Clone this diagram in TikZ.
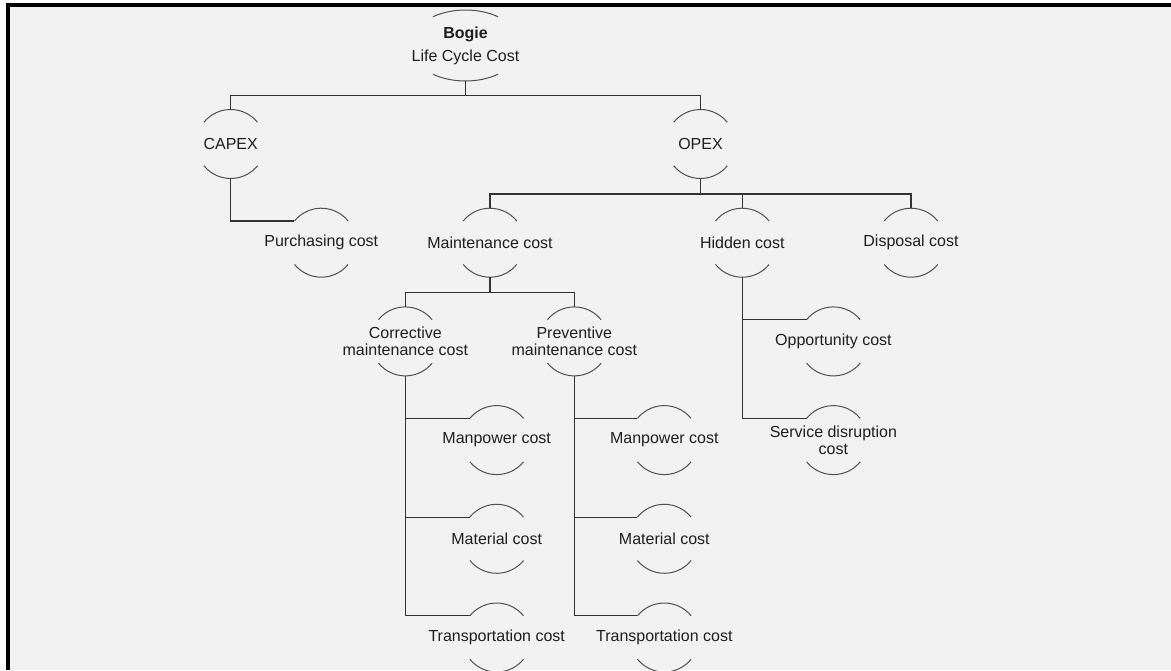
\documentclass[tikz,border=0pt]{standalone}
\usepackage{fontspec}
\setmainfont{Liberation Sans}
\usetikzlibrary{shapes.geometric}
\definecolor{bg}{HTML}{F2F2F2}
\definecolor{ln}{HTML}{333333}
\definecolor{arcc}{HTML}{505050}
\definecolor{txt}{HTML}{1E1E1E}
\begin{document}
\begin{tikzpicture}[x=1pt,y=1pt,
  bub/.style={circle, minimum size=69pt, inner sep=0pt, outer sep=0pt},
  every label/.style={align=center, text=txt, font=\fontsize{16}{17}\selectfont, inner sep=0pt},
  conn/.style={draw=ln, line width=1.1pt},
  arcl/.style={draw=arcc, line width=1pt}]
\useasboundingbox (0,0) rectangle (1171,-670);
\clip (0,0) rectangle (1171,-670);
\fill[white] (0,0) rectangle (1171,-670);
\fill[bg] (10,-7.3) rectangle (1171,-670);
\fill[black] (6,-3.3) rectangle (10,-670);
\fill[black] (6,-3.3) rectangle (1171,-7.3);

% nodes
\node[shape=ellipse, minimum width=111pt, minimum height=71pt, inner sep=0pt, outer sep=0pt,
      label=center:{\textbf{Bogie}\\[6pt]Life Cycle Cost}] (bogie) at (465.5,-45.5) {};
\node[bub, label=center:CAPEX] (capex) at (230.7,-144) {};
\node[bub, label=center:OPEX] (opex) at (700.5,-144) {};
\node[bub, label=center:Purchasing cost] (purch) at (321.3,-242.7) {};
\node[bub, label=center:Maintenance cost] (maint) at (490,-242.7) {};
\node[bub, label=center:Hidden cost] (hidden) at (742.3,-242.7) {};
\node[bub, label=center:Disposal cost] (disp) at (911,-242.7) {};
\node[bub, label=center:{Corrective\\maintenance cost}] (corr) at (405.3,-341.4) {};
\node[bub, label=center:{Preventive\\maintenance cost}] (prev) at (574.3,-341.4) {};
\node[bub, label=center:Opportunity cost] (opp) at (833.4,-341.4) {};
\node[bub, label=center:{Service disruption\\cost}] (serv) at (833.4,-440.1) {};
\node[bub, label=center:Manpower cost] (manL) at (496.7,-440.1) {};
\node[bub, label=center:Manpower cost] (manR) at (664.3,-440.1) {};
\node[bub, label=center:Material cost] (matL) at (496.7,-538.8) {};
\node[bub, label=center:Material cost] (matR) at (664.3,-538.8) {};
\node[bub, label=center:Transportation cost] (trL) at (496.7,-637.5) {};
\node[bub, label=center:Transportation cost] (trR) at (664.3,-637.5) {};

% arcs
\foreach \n in {capex,opex,purch,maint,hidden,disp,corr,prev,opp,serv,manL,manR,matL,matR,trL,trR}{
  \draw[arcl] (\n.39) arc[start angle=39,end angle=141,radius=34.5pt];
  \draw[arcl] (\n.219) arc[start angle=219,end angle=321,radius=34.5pt];
}
\draw[arcl] ([shift={(54:55.5pt and 35.5pt)}]bogie.center) arc[start angle=54,end angle=126,x radius=55.5pt,y radius=35.5pt];
\draw[arcl] ([shift={(234:55.5pt and 35.5pt)}]bogie.center) arc[start angle=234,end angle=306,x radius=55.5pt,y radius=35.5pt];

% connectors
\draw[conn] (bogie.south) -- ++(0,-14.5) coordinate (b0);
\draw[conn] (capex.north) |- (b0) -| (opex.north);
\draw[conn] (opex.south) -- ++(0,-15.5) coordinate (b1);
\draw[conn] (maint.north) |- (b1) -| (disp.north);
\draw[conn] (b1) -| (hidden.north);
\draw[conn] (maint.south) -- ++(0,-15) coordinate (b2);
\draw[conn] (corr.north) |- (b2) -| (prev.north);
\draw[conn] (capex.south) |- (purch.141);
\draw[conn] (hidden.south) |- (opp.141);
\draw[conn] (hidden.south) |- (serv.141);
\foreach \c in {manL,matL,trL}{\draw[conn] (corr.south) |- (\c.141);}
\foreach \c in {manR,matR,trR}{\draw[conn] (prev.south) |- (\c.141);}
\end{tikzpicture}
\end{document}
